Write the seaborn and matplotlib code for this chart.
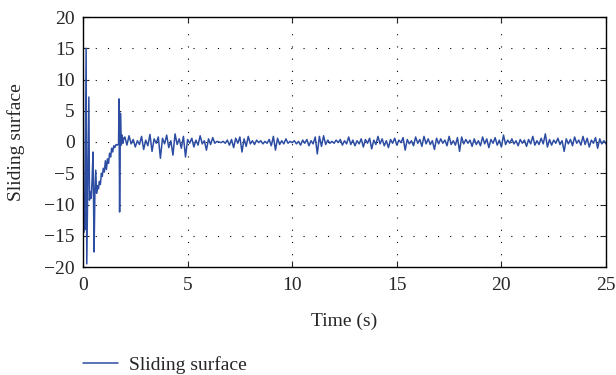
import numpy as np
import pandas as pd
import matplotlib
matplotlib.use("Agg")
import matplotlib.pyplot as plt
import seaborn as sns

# ---- data ----
transient_time = [0.00, 0.01, 0.03, 0.05, 0.09, 0.15, 0.18, 0.22, 0.28, 0.31,
                  0.35, 0.39, 0.43, 0.48, 0.53, 0.57, 0.61, 0.65, 0.69, 0.74,
                  0.78, 0.83, 0.88, 0.92, 0.97, 1.02, 1.07, 1.12, 1.17, 1.22,
                  1.27, 1.32, 1.37, 1.42, 1.47, 1.52, 1.58, 1.64, 1.70, 1.72,
                  1.75, 1.79, 1.83, 1.87, 1.91, 1.95]
transient_value = [-19.5, 15.0, -14.5, -10.0, -14.0, 15.0, -19.5, -9.0, 7.2, -9.3,
                   -8.0, -9.0, -6.5, -1.6, -17.6, -7.7, -4.5, -8.2, -7.0, -7.5,
                   -6.3, -6.8, -5.0, -5.5, -4.2, -4.8, -3.0, -4.4, -2.7, -3.4,
                   -1.8, -2.4, -1.0, -1.6, -0.6, -0.9, -0.4, -0.5, -0.3, 6.9,
                   -11.2, 4.6, -0.5, 1.1, -0.2, 0.6]

steady_start, steady_end, steady_step = 2.0, 25.0, 0.1
steady_value = [
    0.8, -0.5, 1.0, -0.3, 0.4, -0.8, 0.2, -0.4, 0.9, -1.2,
    0.3, -0.6, 1.2, -1.5, 0.5, -0.2, 0.8, -2.6, 0.6, -0.3,
    1.1, -0.9, 0.2, -2.1, 1.3, -0.4, 0.5, -1.0, 0.9, -2.4,
    0.4, -0.2, 0.6, -0.8, 0.3, -0.5, 1.0, -0.3, 0.2, -1.3,
    0.5, -0.4, 0.7, -0.2, 0.1, 0.0, -0.1, 0.1, -0.2, 0.3,
    -0.5, 0.4, -0.9, 0.6, -0.2, 0.8, -1.6, 0.5, -0.7, 0.9,
    -0.3, 0.2, -0.4, 0.3, -0.1, 0.2, -0.3, 0.1, -0.2, 0.4,
    -0.6, 0.9, -1.3, 0.6, -0.4, 0.2, -0.3, 0.5, -0.2, 0.1,
    -0.1, 0.2, -0.3, 0.1, -0.5, 0.3, -0.2, 0.4, -0.6, 0.2,
    -0.3, 0.8, -1.9, 0.9, -0.7, 1.0, -0.4, 0.3, -0.2, 0.1,
    -0.2, 0.3, -0.1, 0.4, -0.5, 0.2, -0.3, 0.8, -0.4, 0.3,
    -0.6, 0.2, -0.3, 0.5, -0.8, 0.4, -0.2, 0.6, -1.1, 0.3,
    -0.4, 0.9, -0.3, 0.5, -0.6, 0.2, -0.9, 0.4, -0.2, 0.6,
    -0.5, 0.3, -0.1, 0.7, -1.3, 0.4, -0.3, 0.2, -0.6, 0.8,
    -0.2, 0.4, -0.7, 0.9, -0.3, 0.5, -0.4, 0.2, -1.2, 0.6,
    -0.3, 0.5, -0.2, 0.3, -0.6, 0.9, -0.4, 0.2, -0.5, 0.7,
    -1.5, 0.8, -0.3, 0.4, -0.2, 0.3, -0.7, 0.5, -0.4, 0.2,
    -0.6, 0.8, -0.3, 0.5, -0.9, 0.4, -0.2, 0.7, -0.5, 0.3,
    -0.8, 1.1, -0.4, 0.3, -0.2, 0.5, -0.3, 0.2, -0.6, 0.4,
    -0.2, 0.3, -0.7, 0.4, -0.3, 0.9, -0.5, 0.2, -0.4, 0.6,
    -0.3, 1.3, -0.8, 0.4, -0.5, 0.3, -0.2, 0.6, -0.4, 0.2,
    -1.5, 0.5, -0.3, 0.4, -0.6, 0.8, -0.2, 0.3, -0.5, 0.9,
    -0.4, 0.6, -0.8, 0.3, -0.2, 0.7, -1.0, 0.5, -0.3, 0.2,
    -0.3,
]

x_ticks = [0, 5, 10, 15, 20, 25]
y_ticks = [-20, -15, -10, -5, 0, 5, 10, 15, 20]
series_label = "Sliding surface"
x_label = "Time (s)"
y_label = "Sliding surface"

steady_time = list(np.round(np.arange(len(steady_value)) * steady_step + steady_start, 2))
df = pd.DataFrame({
    "t": list(transient_time) + steady_time,
    "s": list(transient_value) + steady_value,
})

# ---- style ----
sns.set_style("ticks")
plt.rcParams["font.family"] = ["Liberation Serif", "DejaVu Serif"]
FS = 14
plt.rcParams["font.size"] = FS

W, H = 616, 375
fig = plt.figure(figsize=(W / 100, H / 100), dpi=100)
ax = fig.add_axes([83 / W, 1 - 267 / H, (606 - 83) / W, (267 - 17) / H])

sns.lineplot(data=df, x="t", y="s", ax=ax, estimator=None, sort=False,
             color="#2d4da3", linewidth=1.1, label=series_label)

ax.set_xlim(0, 25)
ax.set_ylim(-20, 20)
ax.set_xticks(x_ticks)
ax.set_yticks(y_ticks)
ax.set_xlabel(x_label, fontsize=FS, labelpad=14)
ax.set_ylabel(y_label, fontsize=FS, labelpad=14)
ax.tick_params(direction="in", top=True, right=True, length=4, width=0.8,
               labelsize=FS)
ax.tick_params(axis="x", pad=7)
ax.tick_params(axis="y", pad=6)
for sp in ax.spines.values():
    sp.set_visible(True)
    sp.set_linewidth(1.0)
    sp.set_color("black")
ax.grid(True, color="black", linestyle=(0, (1, 10)), linewidth=0.8)

handles, labels = ax.get_legend_handles_labels()
ax.get_legend().remove()
fig.legend(handles, labels, loc="center left", bbox_to_anchor=(83 / W, 1 - 365 / H),
           frameon=False, fontsize=FS, handlelength=1.8, handletextpad=0.55,
           borderaxespad=0, borderpad=0)

fig.savefig("out.png", dpi=100)
